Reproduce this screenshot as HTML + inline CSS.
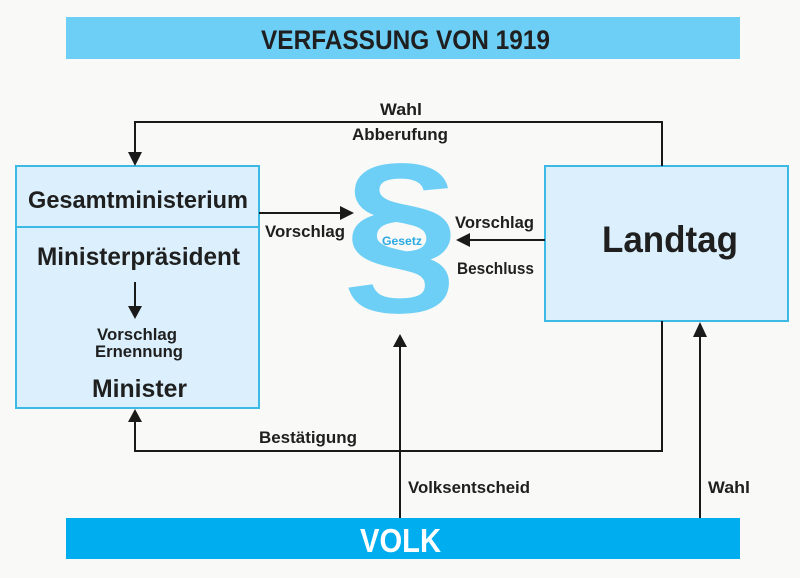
<!DOCTYPE html>
<html>
<head>
<meta charset="utf-8">
<style>
  html, body { margin: 0; padding: 0; background: #f9f9f7; }
  svg { display: block; }
  text { font-family: "Liberation Sans", "DejaVu Sans", sans-serif; }
</style>
</head>
<body>
<svg width="800" height="578" viewBox="0 0 800 578" xmlns="http://www.w3.org/2000/svg">
  <rect x="0" y="0" width="800" height="578" fill="#f9f9f7"/>

  <!-- Title bar -->
  <rect x="66" y="17" width="674" height="42" fill="#6dcff6"/>
  <text x="261" y="49" font-size="27" font-weight="bold" fill="#1f1f1f" textLength="289" lengthAdjust="spacingAndGlyphs">VERFASSUNG VON 1919</text>

  <!-- Left box -->
  <rect x="16" y="166" width="243" height="242" fill="#dbf0fc" stroke="#3db9e5" stroke-width="2"/>
  <line x1="16" y1="227" x2="259" y2="227" stroke="#3db9e5" stroke-width="2"/>
  <text x="28" y="208" font-size="24" font-weight="bold" fill="#1f1f1f" textLength="220" lengthAdjust="spacingAndGlyphs">Gesamtministerium</text>
  <text x="37" y="265" font-size="25" font-weight="bold" fill="#1f1f1f" textLength="203" lengthAdjust="spacingAndGlyphs">Ministerpräsident</text>
  <text x="97" y="340" font-size="16.5" font-weight="bold" fill="#1f1f1f" textLength="80" lengthAdjust="spacingAndGlyphs">Vorschlag</text>
  <text x="95" y="357" font-size="16.5" font-weight="bold" fill="#1f1f1f" textLength="88" lengthAdjust="spacingAndGlyphs">Ernennung</text>
  <text x="92" y="397" font-size="25" font-weight="bold" fill="#1f1f1f" textLength="95" lengthAdjust="spacingAndGlyphs">Minister</text>
  <!-- inner arrow -->
  <line x1="135" y1="282" x2="135" y2="307" stroke="#1a1a1a" stroke-width="2"/>
  <polygon points="128,306 142,306 135,319" fill="#1a1a1a"/>

  <!-- Landtag box -->
  <rect x="545" y="166" width="243" height="155" fill="#dbf0fc" stroke="#3db9e5" stroke-width="2"/>
  <text x="602" y="252" font-size="37" font-weight="bold" fill="#1f1f1f" textLength="136" lengthAdjust="spacingAndGlyphs">Landtag</text>

  <!-- Section sign -->
  <g transform="translate(401,293) scale(1.22,1.09)">
    <text x="0" y="0" text-anchor="middle" font-size="171" font-weight="bold" fill="#6dcff6">§</text>
  </g>
  <text x="382" y="245" font-size="12" font-weight="bold" fill="#2aaae2" textLength="40" lengthAdjust="spacingAndGlyphs">Gesetz</text>

  <!-- Top connector: Landtag -> Gesamtministerium -->
  <polyline points="662,166 662,122 135,122 135,153" fill="none" stroke="#1a1a1a" stroke-width="2"/>
  <polygon points="128,152 142,152 135,166" fill="#1a1a1a"/>
  <text x="380" y="115" font-size="16.5" font-weight="bold" fill="#1f1f1f" textLength="42" lengthAdjust="spacingAndGlyphs">Wahl</text>
  <text x="352" y="140" font-size="16.5" font-weight="bold" fill="#1f1f1f" textLength="96" lengthAdjust="spacingAndGlyphs">Abberufung</text>

  <!-- Left Vorschlag arrow -->
  <line x1="259" y1="213" x2="341" y2="213" stroke="#1a1a1a" stroke-width="2"/>
  <polygon points="340,206 340,220 354,213" fill="#1a1a1a"/>
  <text x="265" y="237" font-size="16.5" font-weight="bold" fill="#1f1f1f" textLength="80" lengthAdjust="spacingAndGlyphs">Vorschlag</text>

  <!-- Right Vorschlag/Beschluss arrow -->
  <line x1="545" y1="240" x2="469" y2="240" stroke="#1a1a1a" stroke-width="2"/>
  <polygon points="470,233 470,247 456,240" fill="#1a1a1a"/>
  <text x="455" y="228" font-size="16.5" font-weight="bold" fill="#1f1f1f" textLength="79" lengthAdjust="spacingAndGlyphs">Vorschlag</text>
  <text x="457" y="274" font-size="16.5" font-weight="bold" fill="#1f1f1f" textLength="77" lengthAdjust="spacingAndGlyphs">Beschluss</text>

  <!-- Bestätigung connector -->
  <polyline points="662,321 662,451 135,451 135,421" fill="none" stroke="#1a1a1a" stroke-width="2"/>
  <polygon points="128,422 142,422 135,409" fill="#1a1a1a"/>
  <text x="259" y="443" font-size="16.5" font-weight="bold" fill="#1f1f1f" textLength="98" lengthAdjust="spacingAndGlyphs">Bestätigung</text>

  <!-- Volksentscheid -->
  <line x1="400" y1="518" x2="400" y2="346" stroke="#1a1a1a" stroke-width="2"/>
  <polygon points="393,347 407,347 400,334" fill="#1a1a1a"/>
  <text x="408" y="493" font-size="16.5" font-weight="bold" fill="#1f1f1f" textLength="122" lengthAdjust="spacingAndGlyphs">Volksentscheid</text>

  <!-- Wahl bottom -->
  <line x1="700" y1="518" x2="700" y2="336" stroke="#1a1a1a" stroke-width="2"/>
  <polygon points="693,337 707,337 700,322" fill="#1a1a1a"/>
  <text x="708" y="493" font-size="16.5" font-weight="bold" fill="#1f1f1f" textLength="42" lengthAdjust="spacingAndGlyphs">Wahl</text>

  <!-- VOLK bar -->
  <rect x="66" y="518" width="674" height="41" fill="#00aeef"/>
  <text x="360" y="552" font-size="33" font-weight="bold" fill="#ffffff" textLength="81" lengthAdjust="spacingAndGlyphs">VOLK</text>
</svg>
</body>
</html>
